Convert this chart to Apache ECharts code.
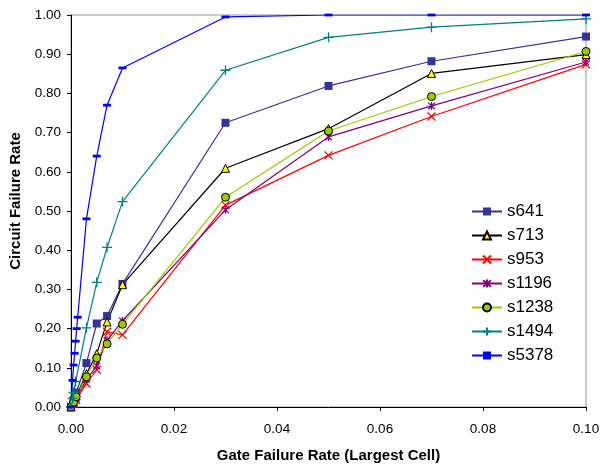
<!DOCTYPE html>
<html>
<head>
<meta charset="utf-8">
<script src="https://cdn.jsdelivr.net/npm/echarts@6/dist/echarts.min.js"></script>
<style>
  html, body { margin: 0; padding: 0; background: #fff; }
  #chart { width: 608px; height: 468px; }
</style>
</head>
<body>
<div id="chart"></div>
<script>
// gate failure rates (x), shared by every circuit; null = no point there
const xValues = [0, 0.0003, 0.0005, 0.0007, 0.0009, 0.001, 0.0011, 0.0013, 0.003, 0.005, 0.007, 0.01, 0.03, 0.05, 0.07, 0.1];

const s641  = [0, null, 0.018, null, null, 0.037, null, null, 0.112, 0.213, 0.232, 0.314, 0.725, 0.819, 0.882, 0.945];
const s713  = [0, null, 0.012, null, null, 0.028, null, null, 0.085, 0.136, 0.217, 0.312, 0.609, 0.710, 0.851, 0.899];
const s953  = [0, null, 0.008, null, null, 0.018, null, null, 0.060, 0.095, 0.192, 0.184, 0.515, 0.642, 0.741, 0.874];
const s1196 = [0, null, 0.010, null, null, 0.022, null, null, 0.070, 0.105, 0.170, 0.220, 0.503, 0.689, 0.768, 0.880];
const s1238 = [0, null, 0.012, null, null, 0.026, null, null, 0.077, 0.125, 0.161, 0.211, 0.535, 0.704, 0.792, 0.907];
const s1494 = [0, 0.022, 0.037, null, 0.065, null, null, null, 0.202, 0.318, 0.407, 0.524, 0.859, 0.943, 0.969, 0.990];
const s5378 = [0, 0.068, 0.107, 0.137, 0.168, null, 0.200, 0.229, 0.480, 0.640, 0.770, 0.865, 0.995, 1.000, 1.000, 1.000];

const seriesNames = ['s641', 's713', 's953', 's1196', 's1238', 's1494', 's5378'];
const seriesValues = [s641, s713, s953, s1196, s1238, s1494, s5378];

const FONT = 'Liberation Sans, Arial, sans-serif';

// marker look per circuit (Excel-ish)
const looks = [
  { line: '#333399', symbol: 'rect', size: 8, fill: '#333399', border: '#333399', bw: 0 },
  { line: '#000000', symbol: 'triangle', size: 8, fill: '#FFFF00', border: '#000000', bw: 1 },
  { line: '#FF0000', symbol: 'path://M0,0L10,10M10,0L0,10', size: 8, fill: 'none', border: '#FF0000', bw: 1.3 },
  { line: '#800080', symbol: 'path://M0,0L10,10M10,0L0,10M5,-1L5,11', size: 8, fill: 'none', border: '#800080', bw: 1.3 },
  { line: '#99CC00', symbol: 'circle', size: 8, fill: '#99CC00', border: '#000000', bw: 1 },
  { line: '#008080', symbol: 'path://M5,0L5,10M0,5L10,5', size: 10, fill: 'none', border: '#008080', bw: 1.3 },
  { line: '#0000FF', symbol: 'path://M0,0H10V3.5H0Z', size: 8, fill: '#0000FF', border: '#0000FF', bw: 0 }
];

function pairs(ys) {
  let out = [];
  for (let i = 0; i < xValues.length; i++) {
    if (ys[i] !== null) out.push([xValues[i], ys[i]]);
  }
  return out;
}

const chart = echarts.init(document.getElementById('chart'));

chart.setOption({
  animation: false,
  backgroundColor: '#fff',
  textStyle: { fontFamily: FONT },
  grid: { left: 71, right: 22, top: 15, bottom: 57, show: true, borderColor: '#999', borderWidth: 1 },
  legend: {
    orient: 'vertical',
    left: 466,
    top: 198,
    itemWidth: 30,
    itemHeight: 10,
    itemGap: 7,
    data: seriesNames,
    textStyle: { fontFamily: FONT, fontSize: 17, lineHeight: 17, color: '#000' }
  },
  xAxis: {
    type: 'value',
    min: 0,
    max: 0.1,
    interval: 0.02,
    name: 'Gate Failure Rate (Largest Cell)',
    nameLocation: 'middle',
    nameGap: 41,
    nameTextStyle: { fontFamily: FONT, fontSize: 15, fontWeight: 'bold', color: '#000' },
    axisLine: { lineStyle: { color: '#000', width: 1 } },
    axisTick: { show: true, inside: false, length: 4, lineStyle: { color: '#000' } },
    axisLabel: { margin: 15, fontSize: 13.5, color: '#000', formatter: v => v.toFixed(2) },
    splitLine: { show: false }
  },
  yAxis: {
    type: 'value',
    min: 0,
    max: 1,
    interval: 0.1,
    name: 'Circuit Failure Rate',
    nameLocation: 'middle',
    nameGap: 42,
    nameTextStyle: { fontFamily: FONT, fontSize: 15, fontWeight: 'bold', color: '#000', padding: [0, 0, 0, 20] },
    axisLine: { show: true, lineStyle: { color: '#000', width: 1 } },
    axisTick: { show: true, inside: false, length: 4, lineStyle: { color: '#000' } },
    axisLabel: { margin: 10, fontSize: 13.5, color: '#000', formatter: v => v.toFixed(2) },
    splitLine: { show: false }
  },
  series: seriesNames.map((name, i) => ({
    name: name,
    type: 'line',
    data: pairs(seriesValues[i]),
    symbol: looks[i].symbol,
    symbolSize: looks[i].size,
    symbolKeepAspect: true,
    showAllSymbol: true,
    lineStyle: { color: looks[i].line, width: 1.2 },
    itemStyle: { color: looks[i].fill, borderColor: looks[i].border, borderWidth: looks[i].bw },
    emphasis: { disabled: true }
  }))
});
</script>
</body>
</html>
